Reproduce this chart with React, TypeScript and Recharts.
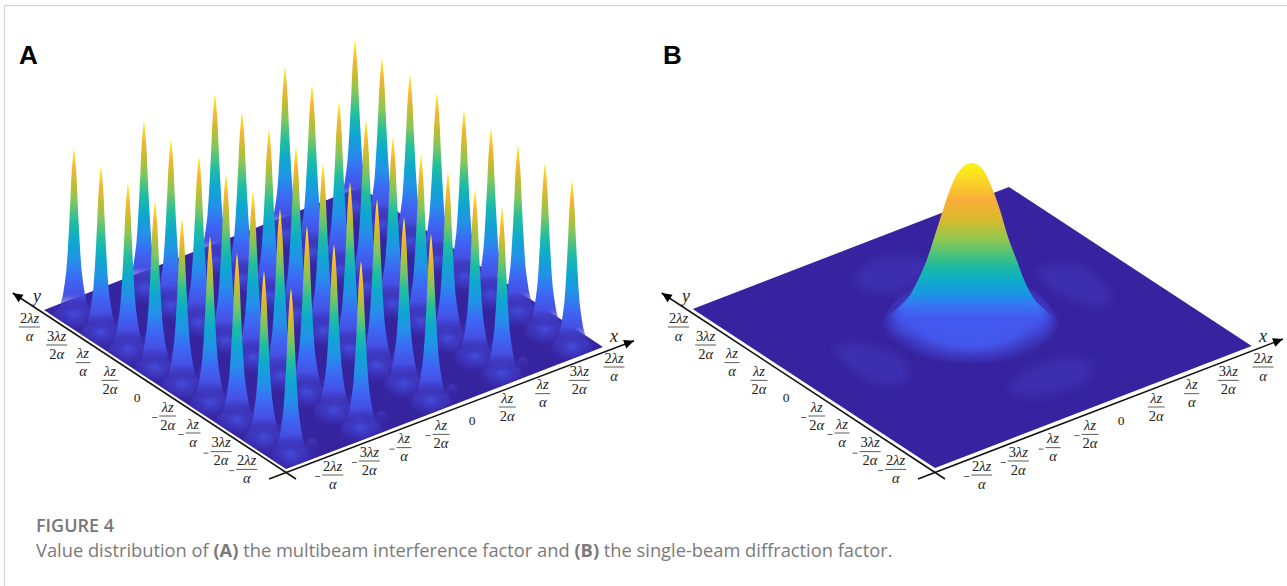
import { Area, Bar, ComposedChart, Line, XAxis, YAxis } from "recharts";

const WIDTH = 1287;
const HEIGHT = 586;

// Panel A: spike positions, one row per column of the grid
const peakX = [
    74, 101, 128, 155, 182, 210, 237, 264, 291,
    144, 171, 199, 226, 253, 280, 307, 334, 361,
    215, 242, 269, 296, 323, 350, 377, 404, 431,
    285, 312, 339, 366, 393, 421, 448, 475, 502,
    355, 382, 410, 437, 464, 491, 518, 545, 572,
];
const peakTop = [
    148, 166, 183, 201, 218, 236, 253, 271, 288,
    121, 139, 156, 174, 191, 209, 226, 244, 261,
    94, 112, 129, 147, 164, 182, 199, 217, 234,
    67, 85, 102, 120, 137, 155, 172, 190, 207,
    40, 58, 75, 93, 110, 128, 145, 163, 180,
];
const peakBase = [
    311, 329, 346, 364, 381, 399, 416, 434, 451,
    284, 302, 319, 337, 354, 372, 389, 407, 424,
    257, 275, 292, 310, 327, 345, 362, 380, 397,
    230, 248, 265, 283, 300, 318, 335, 353, 370,
    203, 221, 238, 256, 273, 291, 308, 326, 343,
];

// ground planes as [x, lower edge, upper edge]
const groundA = [[44, 310, 310], [286, 469, 216], [360, 441, 187], [603, 347, 347]];
const groundB = [[692.7, 309, 309], [935, 468, 215.5], [1009, 439.5, 187], [1251.7, 346, 346]];
const groundACorners = [[44, 310], [286, 469], [603, 347], [360, 187]];

// Panel B: main lobe silhouette and the faint side lobes
const hillX = [885, 901, 910, 918, 926.7, 935, 943, 951.7, 961.7, 971.7, 981.7, 991.7, 1000, 1008, 1016.7, 1025, 1035, 1043, 1058];
const hillTop = [318, 305, 295, 280, 260, 235, 210, 185, 168, 163, 168, 187, 210, 237, 260, 282, 300, 308, 320];
const skirt = [[880, 325, 325], [895, 345, 300], [920, 358, 285], [945, 368, 280], [970, 372, 280], [995, 368, 280], [1020, 358, 285], [1045, 345, 300], [1062, 325, 325]];
const lobes = [
    [[853, 278, 278], [865, 290, 265], [885, 293, 258], [905, 288, 256], [922, 278, 258], [933, 266, 266]],
    [[833, 350, 350], [850, 368, 343], [870, 380, 345], [890, 385, 352], [905, 382, 362], [910, 375, 375]],
    [[1035, 272, 272], [1050, 288, 265], [1070, 298, 265], [1090, 305, 272], [1105, 305, 285], [1112, 295, 295]],
    [[1007, 385, 385], [1025, 395, 372], [1045, 395, 363], [1070, 388, 358], [1088, 378, 360], [1093, 368, 368]],
];

// tick labels along the two floor axes
const yTickNum = ["2λz", "3λz", "λz", "λz", "0", "λz", "λz", "3λz", "2λz"];
const yTickDen = ["α", "2α", "α", "2α", "", "2α", "α", "2α", "α"];
const yTickNeg = [false, false, false, false, false, true, true, true, true];
const xTickNum = ["2λz", "3λz", "λz", "λz", "0", "λz", "λz", "3λz", "2λz"];
const xTickDen = ["α", "2α", "α", "2α", "", "2α", "α", "2α", "α"];
const xTickNeg = [true, true, true, true, false, false, false, false, false];

const yTickPosX = [29.5, 56.7, 83, 110, 137, 167.7, 193, 221, 246.7];
const yTickPosY = [327, 345, 362.7, 380.3, 397, 416, 433, 451.7, 469.3];
const xTickPosX = [332.7, 369.3, 404, 441, 472, 507.3, 542.7, 579.3, 614];
const xTickPosY = [475, 461, 447.7, 434.3, 420, 407, 393.7, 380.3, 367];
const PANEL_B_SHIFT = 649;

const peaks = peakX
    .map((x, i) => ({ x, span: [peakBase[i], peakTop[i]], base: peakBase[i] }))
    .sort((a, b) => a.base - b.base);

const band = (rows: number[][]) => rows.map(([x, lo, hi]) => ({ x, y: [lo, hi] }));
const hill = hillX.map((x, i) => ({ x, y: [340, hillTop[i]] }));

const tickRows = (xs: number[], ys: number[], nums: string[], dens: string[], negs: boolean[], shift = 0) =>
    xs.map((x, i) => ({ x: x + shift, y: ys[i], num: nums[i], den: dens[i], neg: negs[i] }));

const ticks = [
    ...tickRows(yTickPosX, yTickPosY, yTickNum, yTickDen, yTickNeg),
    ...tickRows(xTickPosX, xTickPosY, xTickNum, xTickDen, xTickNeg),
    ...tickRows(yTickPosX, yTickPosY, yTickNum, yTickDen, yTickNeg, PANEL_B_SHIFT),
    ...tickRows(xTickPosX, xTickPosY, xTickNum, xTickDen, xTickNeg, PANEL_B_SHIFT),
];

const axisLines = [
    { data: [{ x: 296, y: 479 }, { x: 12.7, y: 293 }], angle: 213.3 },
    { data: [{ x: 269, y: 479 }, { x: 634, y: 340.7 }], angle: -20.7 },
    { data: [{ x: 945, y: 479 }, { x: 661.7, y: 293 }], angle: 213.3 },
    { data: [{ x: 918, y: 479 }, { x: 1283, y: 339 }], angle: -20.7 },
];

const axisNames = [
    { x: 37, y: 302, name: "y" },
    { x: 614, y: 342, name: "x" },
    { x: 686, y: 302, name: "y" },
    { x: 1263, y: 342, name: "x" },
];

// drop from the tip as a fraction of the height, half width in px
const SPIKE_PROFILE = [
    [0, 0], [0.03, 0.7], [0.1, 1.7], [0.2, 2.8], [0.32, 3.6], [0.5, 5], [0.65, 6.4],
    [0.75, 7.6], [0.82, 9], [0.9, 11], [0.96, 13.5], [1, 15],
];

const SERIF = "'Liberation Serif', serif";

const PeakShape = (props: any) => {
    const cx = props.x + props.width / 2;
    const top = Math.min(props.y, props.y + props.height);
    const h = Math.abs(props.height);
    const left = SPIKE_PROFILE.map(([t, w]) => `${cx - w},${top + t * h}`);
    const right = SPIKE_PROFILE.slice().reverse().map(([t, w]) => `${cx + w},${top + t * h}`);
    const base = top + h;
    return (
        <g>
            <g clipPath="url(#groundClip)">
                <ellipse cx={cx} cy={base + 3} rx={25} ry={18} fill="url(#spikeGlow)" />
                <ellipse cx={cx - 13} cy={base + 6} rx={7} ry={9} fill="url(#moundFill)" />
                <ellipse cx={cx + 13} cy={base + 6} rx={7} ry={9} fill="url(#moundFill)" />
                <ellipse cx={cx - 21} cy={base - 5} rx={6} ry={8} fill="url(#moundFill)" />
                <ellipse cx={cx + 21} cy={base - 5} rx={6} ry={8} fill="url(#moundFill)" />
            </g>
            <path d={`M${left.join("L")}L${right.join("L")}Z`} fill="url(#spikeFill)" />
        </g>
    );
};

const Frac = ({ cx, cy, payload }: any) => {
    const { num, den, neg } = payload;
    if (num === "0") {
        return (
            <text x={cx} y={cy + 4.5} textAnchor="middle" fontFamily={SERIF} fontSize={13.5} fill="#222">0</text>
        );
    }
    const part = (s: string, y: number) => {
        const digit = /^\d/.test(s) ? s[0] : "";
        return (
            <text x={cx} y={y} textAnchor="middle" fontFamily={SERIF} fontSize={14.5} fill="#222">
                {digit}
                <tspan fontStyle="italic">{s.slice(digit.length)}</tspan>
            </text>
        );
    };
    const barW = num.length > 2 ? 21 : den.length > 1 ? 17 : 15;
    return (
        <g>
            {part(num, cy - 4.5)}
            <rect x={cx - barW / 2} y={cy - 0.4} width={barW} height={0.8} fill="#333" />
            {part(den, cy + 13.5)}
            {neg && <rect x={cx - barW / 2 - 7} y={cy + 1} width={5} height={0.8} fill="#333" />}
        </g>
    );
};

const arrowDot = (angle: number) => (p: any) =>
    p.index === 1 ? (
        <polygon
            key={p.index}
            points="0,0 -10,-4.5 -10,4.5"
            fill="#000"
            transform={`translate(${p.cx},${p.cy}) rotate(${angle})`}
        />
    ) : (
        <g key={p.index} />
    );

const AxisName = ({ cx, cy, payload }: any) => (
    <text x={cx} y={cy} textAnchor="middle" fontFamily={SERIF} fontStyle="italic" fontSize={18} fill="#222">
        {payload.name}
    </text>
);

const App = () => {
    return (
        <div style={{ position: "absolute", left: 0, top: 0, width: WIDTH, height: HEIGHT, overflow: "hidden", background: "#fff" }}>
            <ComposedChart width={WIDTH} height={HEIGHT} data={peaks} margin={{ top: 0, right: 0, bottom: 0, left: 0 }}>
                <defs>
                    <clipPath id="groundClip">
                        <polygon points={groundACorners.map((c) => c.join(",")).join(" ")} />
                    </clipPath>
                    <linearGradient id="spikeFill" x1="0" y1="0" x2="0" y2="1">
                        <stop offset="0" stopColor="#fbf20c" />
                        <stop offset="0.05" stopColor="#fbdc20" />
                        <stop offset="0.12" stopColor="#f9b534" />
                        <stop offset="0.22" stopColor="#c4bd30" />
                        <stop offset="0.33" stopColor="#7cc660" />
                        <stop offset="0.45" stopColor="#20bea0" />
                        <stop offset="0.57" stopColor="#0ea8cf" />
                        <stop offset="0.69" stopColor="#2490ea" />
                        <stop offset="0.8" stopColor="#3d68f5" />
                        <stop offset="0.9" stopColor="#4650e4" />
                        <stop offset="1" stopColor="#3d33b8" stopOpacity="0.2" />
                    </linearGradient>
                    <radialGradient id="spikeGlow">
                        <stop offset="0" stopColor="#4450e0" stopOpacity="0.95" />
                        <stop offset="0.6" stopColor="#3d36c0" stopOpacity="0.6" />
                        <stop offset="1" stopColor="#37259f" stopOpacity="0" />
                    </radialGradient>
                    <linearGradient id="moundFill" x1="0" y1="0" x2="0" y2="1">
                        <stop offset="0" stopColor="#4340c8" stopOpacity="0.6" />
                        <stop offset="1" stopColor="#3a2bb0" stopOpacity="0" />
                    </linearGradient>
                    <linearGradient id="hillFill" x1="0" y1="0" x2="0" y2="1">
                        <stop offset="0" stopColor="#f8f50e" />
                        <stop offset="0.06" stopColor="#fbe31f" />
                        <stop offset="0.21" stopColor="#f9ae3a" />
                        <stop offset="0.32" stopColor="#d9b92b" />
                        <stop offset="0.435" stopColor="#8ec851" />
                        <stop offset="0.52" stopColor="#49c27c" />
                        <stop offset="0.59" stopColor="#1cb8a5" />
                        <stop offset="0.66" stopColor="#0eadc8" />
                        <stop offset="0.745" stopColor="#1d94e6" />
                        <stop offset="0.81" stopColor="#3a72f5" />
                        <stop offset="0.885" stopColor="#4458f0" stopOpacity="0.9" />
                        <stop offset="1" stopColor="#4456ea" stopOpacity="0" />
                    </linearGradient>
                    <linearGradient id="hillEdges" x1="0" y1="0" x2="1" y2="0">
                        <stop offset="0" stopColor="#000" />
                        <stop offset="0.04" stopColor="#666" />
                        <stop offset="0.09" stopColor="#ddd" />
                        <stop offset="0.13" stopColor="#fff" />
                        <stop offset="0.87" stopColor="#fff" />
                        <stop offset="0.91" stopColor="#ddd" />
                        <stop offset="0.96" stopColor="#666" />
                        <stop offset="1" stopColor="#000" />
                    </linearGradient>
                    <mask id="hillMask" maskContentUnits="objectBoundingBox">
                        <rect x="0" y="0" width="1" height="1" fill="url(#hillEdges)" />
                    </mask>
                    <radialGradient id="skirtFill" cx="0.5" cy="0.42" r="0.5">
                        <stop offset="0" stopColor="#4060f5" />
                        <stop offset="0.6" stopColor="#4456ea" />
                        <stop offset="0.82" stopColor="#3e38c0" />
                        <stop offset="1" stopColor="#37239f" />
                    </radialGradient>
                    <filter id="soft" x="-30%" y="-30%" width="160%" height="160%">
                        <feGaussianBlur stdDeviation="5" />
                    </filter>
                </defs>

                <XAxis dataKey="x" type="number" domain={[0, WIDTH]} hide allowDataOverflow />
                <YAxis type="number" domain={[0, HEIGHT]} reversed hide allowDataOverflow />

                <Area data={band(groundA)} dataKey="y" type="linear" stroke="none" fill="#36249f" fillOpacity={1} isAnimationActive={false} />
                <Area data={band(groundB)} dataKey="y" type="linear" stroke="none" fill="#37239f" fillOpacity={1} isAnimationActive={false} />
                {lobes.map((rows, i) => (
                    <Area key={i} data={band(rows)} dataKey="y" type="monotone" stroke="none" fill="#3c2db0" fillOpacity={1} filter="url(#soft)" isAnimationActive={false} />
                ))}
                <Area data={band(skirt)} dataKey="y" type="monotone" stroke="none" fill="url(#skirtFill)" fillOpacity={1} isAnimationActive={false} />
                <Area data={hill} dataKey="y" type="monotone" stroke="none" fill="url(#hillFill)" fillOpacity={1} mask="url(#hillMask)" isAnimationActive={false} />

                <Bar dataKey="span" barSize={30} shape={PeakShape} isAnimationActive={false} />

                {axisLines.map((a, i) => (
                    <Line key={i} data={a.data} dataKey="y" type="linear" stroke="#111" strokeWidth={1.5} dot={arrowDot(a.angle)} activeDot={false} isAnimationActive={false} />
                ))}
                <Line data={ticks} dataKey="y" stroke="none" dot={Frac} activeDot={false} isAnimationActive={false} />
                <Line data={axisNames} dataKey="y" stroke="none" dot={AxisName} activeDot={false} isAnimationActive={false} />
            </ComposedChart>

            <div style={{ position: "absolute", left: 4, top: 5, right: 0, bottom: 0, borderTop: "1.5px solid #cfcfcf", borderLeft: "1.5px solid #cfcfcf" }} />
            <div style={{ position: "absolute", left: 19, top: 40, font: "bold 26px 'Liberation Sans', sans-serif", color: "#000" }}>A</div>
            <div style={{ position: "absolute", left: 663, top: 40, font: "bold 26px 'Liberation Sans', sans-serif", color: "#000" }}>B</div>
            <div style={{ position: "absolute", left: 36, top: 513, font: "600 18px 'Open Sans', sans-serif", color: "#777" }}>FIGURE 4</div>
            <div style={{ position: "absolute", left: 36, top: 537, font: "400 18.3px 'Open Sans', sans-serif", color: "#7a7a7a", whiteSpace: "nowrap" }}>
                Value distribution of <b>(A)</b> the multibeam interference factor and <b>(B)</b> the single-beam diffraction factor.
            </div>
        </div>
    );
};

export default App;
